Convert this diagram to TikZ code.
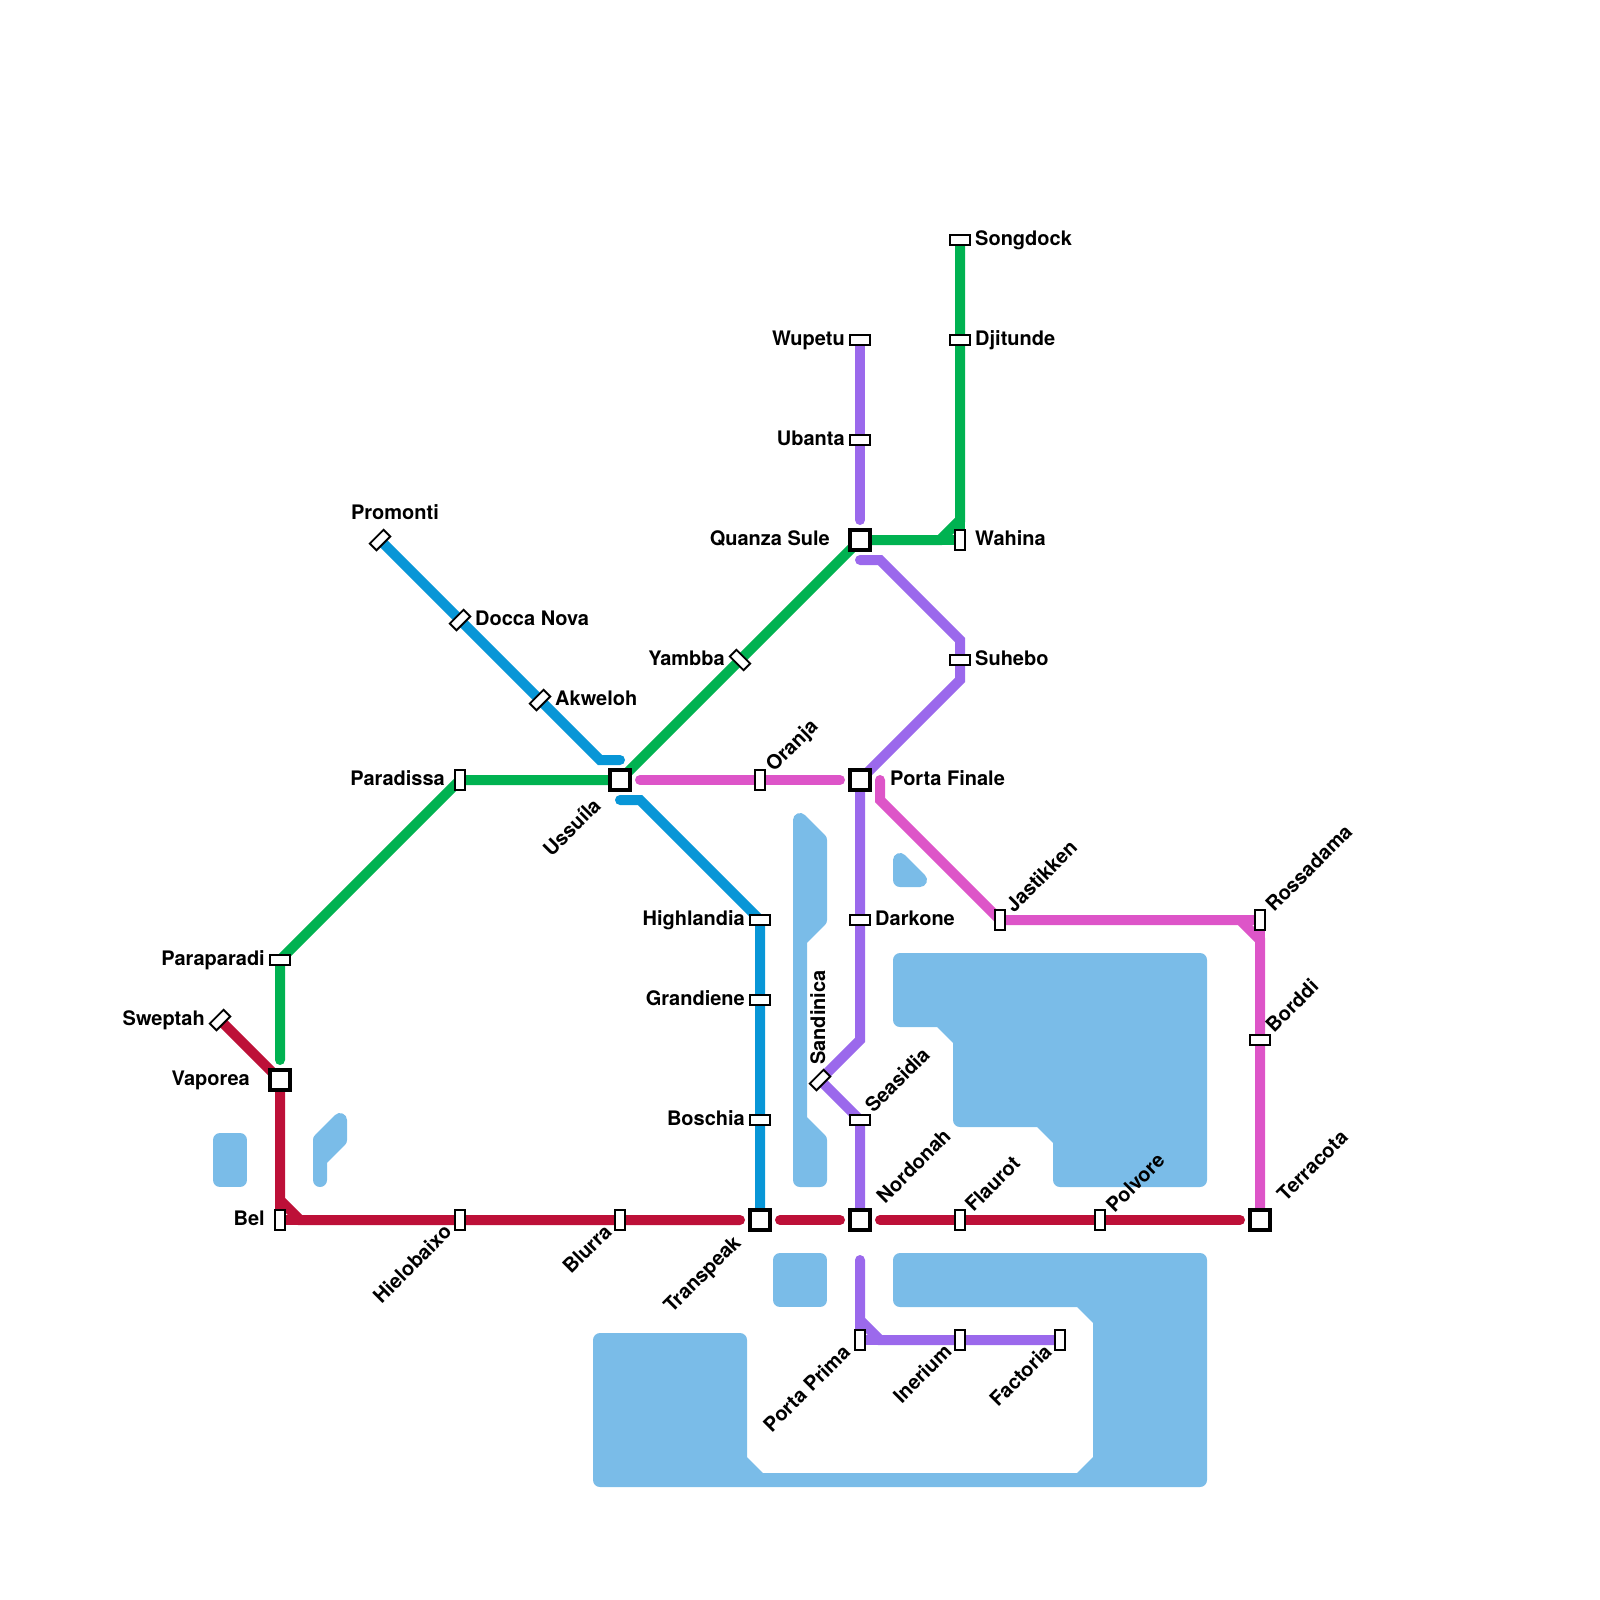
\documentclass[tikz,border=0pt]{standalone}
\usepackage{fontspec}
\setmainfont{TeX Gyre Heros}
\usetikzlibrary{calc}
\pgfdeclarelayer{water}
\pgfdeclarelayer{lines}
\pgfsetlayers{water,lines,main}
\definecolor{cwater}{HTML}{7ABCE8}
\definecolor{cblue}{HTML}{0896D7}
\definecolor{cgreen}{HTML}{00B251}
\definecolor{cred}{HTML}{BD1038}
\definecolor{cpurple}{HTML}{9B69EC}
\definecolor{cpink}{HTML}{DD55C8}
\tikzset{
  waterarea/.style={draw=cwater,fill=cwater,line width=14pt,line join=round},
  route/.style={line width=10pt,line cap=round,line join=miter},
  hub/.style={draw=black,fill=white,line width=4pt,rectangle,inner sep=0pt,outer sep=0pt,minimum width=20pt,minimum height=20pt},
  halt/.style={draw=black,fill=white,line width=1.9pt,rectangle,inner sep=0pt,outer sep=0pt,minimum width=19.4pt,minimum height=9.4pt},
  haltv/.style={halt,rotate=90},
  haltne/.style={halt,rotate=45},
  haltnw/.style={halt,rotate=-45},
  lbl/.style={inner sep=0pt,font=\fontsize{20}{24}\selectfont\bfseries},
  lble/.style={lbl,anchor=base west},
  lblw/.style={lbl,anchor=base east},
  lblup/.style={lbl,anchor=base west,rotate=45},
  lbldn/.style={lbl,anchor=base east,rotate=45},
}
\begin{document}
\begin{tikzpicture}[x=1pt,y=-1pt]
\useasboundingbox (0,0) rectangle (1600,1600);
% stations
\node[halt] (songdock) at (960,240) {};
\node[halt] (djitunde) at (960,340) {};
\node[haltv] (wahina) at (960,540) {};
\node[halt] (wupetu) at (860,340) {};
\node[halt] (ubanta) at (860,440) {};
\node[hub] (quanza) at (860,540) {};
\node[haltne] (promonti) at (380,540) {};
\node[haltne] (docca) at (460,620) {};
\node[haltne] (akweloh) at (540,700) {};
\node[haltnw] (yambba) at (740,660) {};
\node[halt] (suhebo) at (960,660) {};
\node[haltv] (paradissa) at (460,780) {};
\node[hub] (ussuila) at (620,780) {};
\node[haltv] (oranja) at (760,780) {};
\node[hub] (portafinale) at (860,780) {};
\node[halt] (highlandia) at (760,920) {};
\node[halt] (darkone) at (860,920) {};
\node[haltv] (jastikken) at (1000,920) {};
\node[haltv] (rossadama) at (1260,920) {};
\node[halt] (paraparadi) at (280,960) {};
\node[halt] (grandiene) at (760,1000) {};
\node[haltne] (sweptah) at (220,1020) {};
\node[halt] (borddi) at (1260,1040) {};
\node[hub] (vaporea) at (280,1080) {};
\node[haltne] (sandinica) at (820,1080) {};
\node[halt] (boschia) at (760,1120) {};
\node[halt] (seasidia) at (860,1120) {};
\node[haltv] (bel) at (280,1220) {};
\node[haltv] (hielobaixo) at (460,1220) {};
\node[haltv] (blurra) at (620,1220) {};
\node[hub] (transpeak) at (760,1220) {};
\node[hub] (nordonah) at (860,1220) {};
\node[haltv] (flaurot) at (960,1220) {};
\node[haltv] (polvore) at (1100,1220) {};
\node[hub] (terracota) at (1260,1220) {};
\node[haltv] (portaprima) at (860,1340) {};
\node[haltv] (inerium) at (960,1340) {};
\node[haltv] (factoria) at (1060,1340) {};
% free ends and bends
\coordinate (b1) at (600,760); \coordinate (b2) at (620,760);
\coordinate (b3) at (620,800); \coordinate (b4) at (640,800);
\coordinate (g1) at (280,1060); \coordinate (g2) at (940,540); \coordinate (g3) at (960,520);
\coordinate (r1) at (280,1200); \coordinate (r2) at (300,1220); \coordinate (r3) at (740,1220);
\coordinate (r4) at (780,1220); \coordinate (r5) at (840,1220); \coordinate (r6) at (880,1220); \coordinate (r7) at (1240,1220);
\coordinate (p1) at (860,520); \coordinate (p2) at (860,560); \coordinate (p3) at (880,560);
\coordinate (p4) at (960,640); \coordinate (p5) at (960,680); \coordinate (p6) at (860,1040);
\coordinate (p7) at (860,1260); \coordinate (p8) at (860,1320); \coordinate (p9) at (880,1340);
\coordinate (k1) at (640,780); \coordinate (k2) at (840,780); \coordinate (k3) at (880,780); \coordinate (k4) at (880,800);
\coordinate (k5) at (1240,920); \coordinate (k6) at (1260,940);
% water
\begin{pgfonlayer}{water}
\draw[waterarea] (220,1140) -- (240,1140) -- (240,1180) -- (220,1180) -- cycle;
\draw[waterarea] (320,1140) -- (340,1120) -- (340,1140) -- (320,1160) -- (320,1180) -- cycle;
\draw[waterarea] (900,860) -- (920,880) -- (900,880) -- cycle;
\draw[waterarea] (800,820) -- (820,840) -- (820,920) -- (800,940) -- (800,1120) -- (820,1140) -- (820,1180) -- (800,1180) -- cycle;
\draw[waterarea] (900,960) -- (1200,960) -- (1200,1180) -- (1060,1180) -- (1060,1140) -- (1040,1120) -- (960,1120) -- (960,1040) -- (940,1020) -- (900,1020) -- cycle;
\draw[waterarea] (780,1260) -- (820,1260) -- (820,1300) -- (780,1300) -- cycle;
\draw[waterarea] (900,1260) -- (1200,1260) -- (1200,1480) -- (600,1480) -- (600,1340) -- (740,1340) -- (740,1460) -- (760,1480) -- (1080,1480) -- (1100,1460) -- (1100,1320) -- (1080,1300) -- (900,1300) -- cycle;
\end{pgfonlayer}
% routes
\begin{pgfonlayer}{lines}
\draw[route,cblue] (promonti.center) -- (docca.center) -- (akweloh.center) -- (b1) -- (b2);
\draw[route,cblue] (b3) -- (b4) -- (highlandia.center) -- (grandiene.center) -- (boschia.center) -- (transpeak.center);
\draw[route,cgreen] (g1) -- (paraparadi.center) -- (paradissa.center) -- (ussuila.center) -- (yambba.center) -- (quanza.center) -- (g2) -- (g3) -- (djitunde.center) -- (songdock.center);
\draw[route,cgreen] (g2) -- (wahina.center) -- (g3);
\draw[route,cred] (sweptah.center) -- (vaporea.center) -- (r1) -- (r2) -- (hielobaixo.center) -- (blurra.center) -- (r3);
\draw[route,cred] (r1) -- (bel.center) -- (r2);
\draw[route,cred] (r4) -- (r5);
\draw[route,cred] (r6) -- (flaurot.center) -- (polvore.center) -- (r7);
\draw[route,cpurple] (wupetu.center) -- (ubanta.center) -- (p1);
\draw[route,cpurple] (p2) -- (p3) -- (p4) -- (suhebo.center) -- (p5) -- (portafinale.center) -- (darkone.center) -- (p6) -- (sandinica.center) -- (seasidia.center) -- (nordonah.center);
\draw[route,cpurple] (p7) -- (p8) -- (p9) -- (inerium.center) -- (factoria.center);
\draw[route,cpurple] (p8) -- (portaprima.center) -- (p9);
\draw[route,cpink] (k1) -- (oranja.center) -- (k2);
\draw[route,cpink] (k3) -- (k4) -- (jastikken.center) -- (k5) -- (k6) -- (borddi.center) -- (terracota.center);
\draw[route,cpink] (k5) -- (rossadama.center) -- (k6);
\end{pgfonlayer}
% labels
\node[lble] (t1) at (975,245) {Songdock};
\node[lble] (t2) at (975,345) {Djitunde};
\node[lble] (t3) at (975,545) {Wahina};
\node[lblw] (t4) at (845,345) {Wupetu};
\node[lblw] (t5) at (845,445) {Ubanta};
\node[lblw] (t6) at (830,545) {Quanza Sule};
\node[lbl,anchor=base] (t7) at (395,519.5) {Promonti};
\node[lble] (t8) at (475,625) {Docca Nova};
\node[lble] (t9) at (555,705) {Akweloh};
\node[lblw] (t10) at (725,665) {Yambba};
\node[lble] (t11) at (975,665) {Suhebo};
\node[lblw] (t12) at (445,785) {Paradissa};
\node[lbldn] (t13) at (602,807) {Ussuíla};
\node[lblup] (t14) at (774,773) {Oranja};
\node[lble] (t15) at (890,785) {Porta Finale};
\node[lblw] (t16) at (745,925) {Highlandia};
\node[lble] (t17) at (875,925) {Darkone};
\node[lblup] (t18) at (1014,913.5) {Jastikken};
\node[lblup] (t19) at (1274,913) {Rossadama};
\node[lblw] (t20) at (265,965) {Paraparadi};
\node[lblw] (t21) at (745,1005) {Grandiene};
\node[lblw] (t22) at (205,1025) {Sweptah};
\node[lblup] (t23) at (1274,1033.5) {Borddi};
\node[lblw] (t24) at (250,1085) {Vaporea};
\node[lbl,anchor=base west,rotate=90] (t25) at (825,1065) {Sandinica};
\node[lblw] (t26) at (745,1125) {Boschia};
\node[lblup] (t27) at (873.5,1114) {Seasidia};
\node[lblw] (t28) at (265,1225) {Bel};
\node[lbldn] (t29) at (453,1233) {Hielobaixo};
\node[lbldn] (t30) at (613,1233) {Blurra};
\node[lbldn] (t31) at (742,1244) {Transpeak};
\node[lblup] (t32) at (885,1204.5) {Nordonah};
\node[lblup] (t33) at (973.5,1213) {Flaurot};
\node[lblup] (t34) at (1114.5,1213.5) {Polvore};
\node[lblup] (t35) at (1285.5,1202.5) {Terracota};
\node[lbldn] (t36) at (851.5,1353.5) {Porta Prima};
\node[lbldn] (t37) at (953,1353) {Inerium};
\node[lbldn] (t38) at (1053,1353) {Factoria};
\end{tikzpicture}
\end{document}
